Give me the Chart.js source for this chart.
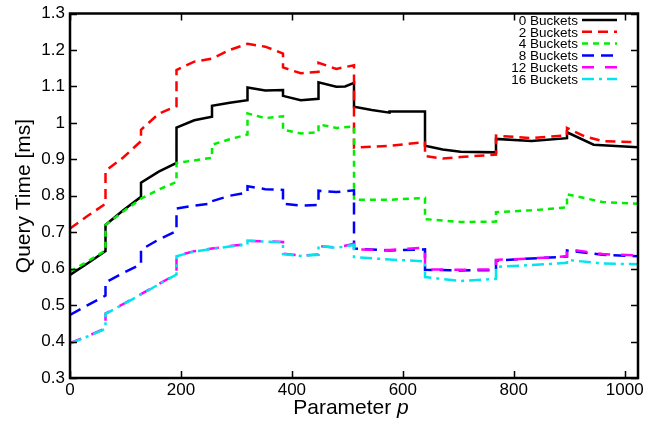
<!DOCTYPE html>
<html>
<head>
<meta charset="utf-8">
<title>Query Time vs Parameter p</title>
<script src="https://cdn.jsdelivr.net/npm/chart.js@4.4.0/dist/chart.umd.min.js"></script>
<style>
  html, body { margin: 0; padding: 0; background: #fff; }
  #wrap { width: 656px; height: 421px; position: relative; }
</style>
</head>
<body>
<div id="wrap"><canvas id="queryChart"></canvas></div>
<script>
// Parameter p values and query times [ms] per bucket count.
// Repeated p values mark the vertical steps of each curve.
const param0 = [0, 32, 64, 64, 96, 128, 128, 160, 192, 192, 224, 256, 256, 288, 320, 320, 352, 384, 384, 416,
                448, 448, 480, 496, 512, 512, 544, 576, 576, 640, 640, 672, 704, 768, 768, 832, 896, 896, 944, 1024];
const time0  = [0.583, 0.615, 0.648, 0.72, 0.76, 0.797, 0.836, 0.866, 0.89, 0.987, 1.007, 1.017, 1.047, 1.055, 1.062, 1.097, 1.089, 1.09, 1.074, 1.062,
                1.066, 1.111, 1.099, 1.1, 1.11, 1.044, 1.035, 1.028, 1.031, 1.031, 0.937, 0.927, 0.921, 0.919, 0.956, 0.95, 0.958, 0.974, 0.94, 0.933];

const param2 = [0, 32, 64, 64, 96, 128, 128, 160, 192, 192, 224, 256, 288, 320, 352, 368, 384, 384, 416, 448,
                448, 480, 512, 512, 576, 640, 640, 672, 704, 768, 768, 832, 896, 896, 928, 960, 1024];
const time2  = [0.71, 0.745, 0.778, 0.868, 0.905, 0.95, 0.981, 1.025, 1.046, 1.145, 1.168, 1.176, 1.2, 1.217, 1.209, 1.2, 1.19, 1.152, 1.136, 1.14,
                1.165, 1.148, 1.158, 0.932, 0.937, 0.947, 0.909, 0.902, 0.906, 0.913, 0.965, 0.958, 0.966, 0.986, 0.963, 0.95, 0.947];

const param4 = [0, 32, 64, 64, 96, 128, 160, 192, 192, 224, 256, 256, 288, 320, 320, 352, 384, 384, 416, 448,
                448, 480, 512, 512, 576, 640, 640, 704, 768, 768, 832, 896, 896, 960, 1024];
const time4  = [0.592, 0.62, 0.65, 0.72, 0.757, 0.792, 0.817, 0.838, 0.89, 0.897, 0.904, 0.94, 0.955, 0.968, 1.026, 1.013, 1.018, 0.981, 0.971, 0.974,
                0.996, 0.986, 0.99, 0.789, 0.789, 0.794, 0.736, 0.728, 0.729, 0.755, 0.76, 0.768, 0.804, 0.783, 0.778];

const param8 = [0, 32, 64, 64, 96, 128, 128, 160, 192, 192, 224, 256, 256, 288, 320, 320, 352, 384, 384, 416,
                448, 448, 480, 512, 512, 576, 640, 640, 704, 768, 768, 832, 896, 896, 960, 1024];
const time8  = [0.473, 0.5, 0.526, 0.562, 0.588, 0.612, 0.652, 0.68, 0.703, 0.765, 0.773, 0.779, 0.785, 0.8, 0.809, 0.826, 0.818, 0.816, 0.778, 0.773,
                0.775, 0.814, 0.81, 0.815, 0.655, 0.65, 0.653, 0.597, 0.595, 0.596, 0.622, 0.628, 0.633, 0.65, 0.638, 0.634];

const param12 = [0, 32, 64, 64, 96, 128, 160, 192, 192, 224, 256, 288, 320, 320, 352, 384, 384, 416, 448, 448,
                 480, 512, 512, 576, 640, 640, 704, 768, 768, 832, 896, 896, 960, 1024];
const time12  = [0.396, 0.415, 0.436, 0.477, 0.503, 0.53, 0.558, 0.585, 0.635, 0.648, 0.655, 0.662, 0.667, 0.676, 0.675, 0.673, 0.641, 0.636, 0.639, 0.662,
                 0.658, 0.668, 0.653, 0.651, 0.658, 0.598, 0.597, 0.598, 0.624, 0.628, 0.634, 0.654, 0.64, 0.636];

const param16 = [0, 32, 64, 64, 96, 128, 160, 192, 192, 224, 256, 288, 320, 320, 352, 384, 384, 416, 448, 448,
                 480, 512, 512, 576, 640, 640, 704, 768, 768, 832, 896, 896, 960, 1024];
const time16  = [0.394, 0.414, 0.435, 0.476, 0.502, 0.529, 0.557, 0.584, 0.634, 0.647, 0.654, 0.661, 0.666, 0.677, 0.674, 0.672, 0.64, 0.635, 0.638, 0.663,
                 0.657, 0.665, 0.632, 0.625, 0.62, 0.577, 0.566, 0.572, 0.605, 0.61, 0.616, 0.624, 0.614, 0.612];

const xTicks = [0, 200, 400, 600, 800, 1000];
const yTicks = [0.3, 0.4, 0.5, 0.6, 0.7, 0.8, 0.9, 1.0, 1.1, 1.2, 1.3];

const FONT = '"Liberation Sans", Arial, Helvetica, sans-serif';
const LINE_WIDTH = 2.5;

const seriesList = [
    { label: '0 Buckets',  p: param0,  t: time0,  color: '#000000', dash: [] },
    { label: '2 Buckets',  p: param2,  t: time2,  color: '#ff0000', dash: [10, 6] },
    { label: '4 Buckets',  p: param4,  t: time4,  color: '#00ee00', dash: [6, 5] },
    { label: '8 Buckets',  p: param8,  t: time8,  color: '#0000ff', dash: [12, 7] },
    { label: '12 Buckets', p: param12, t: time12, color: '#ff00ff', dash: [12, 11] },
    { label: '16 Buckets', p: param16, t: time16, color: '#00e5ee', dash: [12, 5, 3, 5] }
];

function toPoints(ps, ts) {
    return ps.map((p, i) => ({ x: p, y: ts[i] }));
}

// Box, inward ticks on all four sides, axis titles and the legend
const gnuplotFrame = {
    id: 'gnuplotFrame',
    afterDraw(chart) {
        const ctx = chart.ctx;
        const a = chart.chartArea;
        const xs = chart.scales.x;
        const ys = chart.scales.y;
        ctx.save();

        ctx.strokeStyle = '#000';
        ctx.lineWidth = 1.5;
        ctx.beginPath();
        xTicks.forEach(v => {
            const px = Math.round(xs.getPixelForValue(v)) + 0.5;
            ctx.moveTo(px, a.bottom); ctx.lineTo(px, a.bottom - 7);
            ctx.moveTo(px, a.top);    ctx.lineTo(px, a.top + 7);
        });
        yTicks.forEach(v => {
            const py = Math.round(ys.getPixelForValue(v)) + 0.5;
            ctx.moveTo(a.left, py);  ctx.lineTo(a.left + 7, py);
            ctx.moveTo(a.right, py); ctx.lineTo(a.right - 7, py);
        });
        ctx.stroke();

        ctx.lineWidth = 2.5;
        ctx.strokeRect(a.left, a.top, a.right - a.left, a.bottom - a.top);

        // x title: "Parameter p" with italic p
        ctx.fillStyle = '#000';
        ctx.textBaseline = 'alphabetic';
        ctx.textAlign = 'left';
        const normal = '21px ' + FONT;
        const italic = 'italic 21px ' + FONT;
        ctx.font = normal;
        const w1 = ctx.measureText('Parameter ').width;
        ctx.font = italic;
        const w2 = ctx.measureText('p').width;
        const x0 = 351 - (w1 + w2) / 2;
        ctx.font = normal;
        ctx.fillText('Parameter ', x0, 414);
        ctx.font = italic;
        ctx.fillText('p', x0 + w1, 414);

        // y title
        ctx.save();
        ctx.translate(30, 196);
        ctx.rotate(-Math.PI / 2);
        ctx.font = normal;
        ctx.textAlign = 'center';
        ctx.fillText('Query Time [ms]', 0, 0);
        ctx.restore();

        // legend: labels right-aligned, line sample on the right
        ctx.font = '13.5px ' + FONT;
        ctx.textAlign = 'right';
        ctx.textBaseline = 'middle';
        seriesList.forEach((s, i) => {
            const cy = 20 + i * 11.8;
            ctx.fillStyle = '#000';
            ctx.fillText(s.label, 578, cy + 1);
            ctx.strokeStyle = s.color;
            ctx.lineWidth = LINE_WIDTH;
            ctx.setLineDash(s.dash);
            ctx.beginPath();
            ctx.moveTo(582, cy);
            ctx.lineTo(617, cy);
            ctx.stroke();
            ctx.setLineDash([]);
        });

        ctx.restore();
    }
};

function initQueryChart() {
    const canvas = document.getElementById('queryChart');

    const datasets = seriesList.map((s, i) => ({
        label: s.label,
        data: toPoints(s.p, s.t),
        borderColor: s.color,
        backgroundColor: s.color,
        borderWidth: LINE_WIDTH,
        borderDash: s.dash,
        pointRadius: 0,
        tension: 0,
        fill: false,
        // later series are drawn on top
        order: seriesList.length - i
    }));

    return new Chart(canvas, {
        type: 'line',
        data: { datasets: datasets },
        options: {
            responsive: true,
            maintainAspectRatio: false,
            animation: false,
            layout: { padding: { left: 0, right: 18, top: 9, bottom: 0 } },
            plugins: {
                legend: { display: false },
                tooltip: { enabled: false }
            },
            scales: {
                x: {
                    type: 'linear',
                    min: 0,
                    max: 1024,
                    afterBuildTicks: scale => { scale.ticks = xTicks.map(v => ({ value: v })); },
                    afterFit: scale => { scale.height = 43; },
                    grid: { display: false, drawTicks: false },
                    border: { display: false },
                    ticks: {
                        color: '#000',
                        padding: 4,
                        maxRotation: 0,
                        font: { family: FONT, size: 17, lineHeight: 1 },
                        callback: v => String(v)
                    }
                },
                y: {
                    type: 'linear',
                    min: 0.3,
                    max: 1.3,
                    afterBuildTicks: scale => { scale.ticks = yTicks.map(v => ({ value: v })); },
                    afterFit: scale => { scale.width = 70; },
                    grid: { display: false, drawTicks: false },
                    border: { display: false },
                    ticks: {
                        color: '#000',
                        padding: 5,
                        font: { family: FONT, size: 17, lineHeight: 1 },
                        callback: v => String(Number(v.toFixed(1)))
                    }
                }
            }
        },
        plugins: [gnuplotFrame]
    });
}

document.addEventListener('DOMContentLoaded', function() {
    if (typeof Chart === 'undefined') {
        console.error('Chart.js not loaded');
        return;
    }
    initQueryChart();
});
</script>
</body>
</html>
